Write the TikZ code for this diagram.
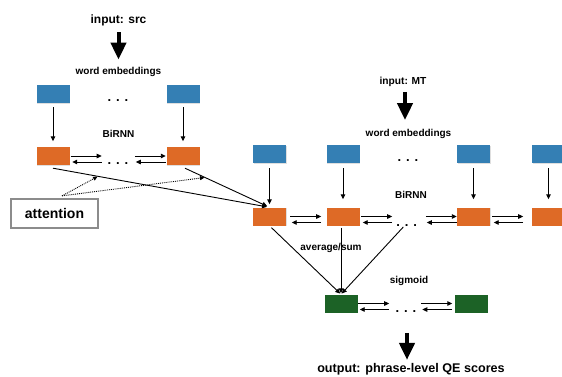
\documentclass[tikz,border=0pt]{standalone}
\usepackage{fontspec}
\setmainfont{Liberation Sans}
\usetikzlibrary{arrows.meta,shadows,calc}
\definecolor{eblue}{RGB}{52,127,180}
\definecolor{eorange}{RGB}{222,106,38}
\definecolor{egreen}{RGB}{28,98,38}
\tikzset{
  box/.style={minimum width=33pt, minimum height=18pt, inner sep=0pt, draw=none,
    drop shadow={shadow xshift=0.8pt, shadow yshift=-0.8pt, opacity=0.25}},
  emb/.style={box, fill=eblue},
  hid/.style={box, fill=eorange},
  outb/.style={box, fill=egreen},
  lbl/.style={font=\bfseries\fontsize{10}{12}\selectfont, inner sep=0pt},
  biglbl/.style={font=\bfseries\fontsize{12}{14}\selectfont, inner sep=0pt},
  dotsn/.style={font=\bfseries\fontsize{13}{13}\selectfont, inner sep=0pt, anchor=base},
  conn/.style={line width=0.9pt, -{Triangle[length=5pt,width=4.5pt]}},
  big/.style={line width=4pt, -{Triangle[length=17pt,width=15pt]}},
  attline/.style={line width=0.9pt, densely dotted, -{Triangle[length=4.5pt,width=4pt]}},
  attbox/.style={draw=black!45, line width=1.3pt, fill=white, minimum width=87pt,
    minimum height=29pt, inner sep=0pt, font=\bfseries\fontsize{14}{16}\selectfont}
}
\newcommand\pairE[2]{%
  \draw[conn] ([xshift=#2]#1.east) -- ++(31pt,0pt);
  \draw[conn] ([shift={(#2+31pt,-6pt)}]#1.east) -- ([shift={(#2+1.5pt,-6pt)}]#1.east);}
\newcommand\pairW[2]{%
  \draw[conn] ([xshift=-#2-31pt]#1.west) -- ([xshift=-#2]#1.west);
  \draw[conn] ([shift={(-#2,-6pt)}]#1.west) -- ([shift={(-#2-30pt,-6pt)}]#1.west);}
\newcommand\dotstext{.\hspace{4.9pt}.\hspace{4.9pt}.}
\begin{document}
\begin{tikzpicture}[x=1pt,y=-1pt]
\useasboundingbox (0,0) rectangle (562,376);

% ---------- source side ----------
\node[biglbl] (insrc) at (118.5,20) {input: src};
\node[lbl] (wesrc) at (118.5,72) {word embeddings};
\draw[big, shorten <=6.5pt, shorten >=7.5pt] (insrc.south) -- (wesrc.north);

\node[emb] (sb1) at (53,94) {};
\node[emb] (sb2) at (183,94) {};
\node[dotsn] (sdots1) at (118,101) {\dotstext};

\node[lbl] (birnnsrc) at (118.5,134) {BiRNN};

\node[hid] (so1) at (53,156) {};
\node[hid] (so2) at (183,156) {};
\node[dotsn] (sdots2) at (118,164) {\dotstext};

\draw[conn, shorten <=4pt, shorten >=5.5pt] (sb1.south) -- (so1.north);
\draw[conn, shorten <=4pt, shorten >=5.5pt] (sb2.south) -- (so2.north);

\pairE{so1}{1pt}
\pairW{so2}{0.5pt}

% ---------- MT side ----------
\node[lbl, font=\bfseries\fontsize{10.2}{12}\selectfont] (inmt) at (403,82) {input: MT};
\node[lbl] (wemt) at (408.5,134) {word embeddings};
\draw[big, shorten <=5pt, shorten >=9pt] (inmt.south -| 405,0) -- (wemt.north -| 405,0);

\node[emb] (mb1) at (269.5,154) {};
\node[emb] (mb2) at (343,154) {};
\node[emb] (mb3) at (473.5,154) {};
\node[emb] (mb4) at (548.5,154) {};
\node[dotsn] (mdots1) at (408,161) {\dotstext};

\node[lbl] (birnnmt) at (411,195) {BiRNN};

\node[hid] (mo1) at (269.5,216.5) {};
\node[hid] (mo2) at (343,216.5) {};
\node[hid] (mo3) at (473.5,216.5) {};
\node[hid] (mo4) at (548.5,216.5) {};
\node[dotsn] (mdots2) at (406.7,226) {\dotstext};

\draw[conn, shorten <=5pt, shorten >=3pt] (mb1.south) -- (mo1.north);
\draw[conn, shorten <=5pt, shorten >=8pt] (mb2.south) -- (mo2.north);
\draw[conn, shorten <=5pt, shorten >=8pt] (mb3.south) -- (mo3.north);
\draw[conn, shorten <=5pt, shorten >=8pt] (mb4.south) -- (mo4.north);

\pairE{mo1}{4pt}
\pairE{mo2}{1.5pt}
\pairW{mo3}{0pt}
\pairE{mo3}{2pt}

% ---------- attention ----------
\node[attbox] (attn) at (54.5,213.5) {attention};
\draw[line width=0.9pt, -{Triangle[length=5pt,width=4.5pt]}, shorten >=2.5pt]
  ([yshift=-3pt]so1.south) -- coordinate[pos=0.208] (p1) (mo1.north);
\draw[line width=0.9pt, -{Triangle[length=5pt,width=4.5pt]}, shorten >=2.5pt]
  ([shift={(2pt,-3pt)}]so2.south) -- coordinate[pos=0.237] (p2) (mo1.north);
\draw[attline, shorten >=0.5pt] ([shift={(7.5pt,2.5pt)}]attn.north) -- (p1);
\draw[attline, shorten >=0.5pt] ([shift={(7.5pt,2.5pt)}]attn.north) -- (p2);

% ---------- output layer ----------
\node[lbl] (avg) at (331,248) {average/sum};
\node[lbl] (sigm) at (409,281) {sigmoid};

\node[outb] (g1) at (341,303.5) {};
\node[outb] (g2) at (471,303.5) {};
\node[dotsn] (gdots) at (406,312.8) {\dotstext};

\draw[conn, shorten >=1pt] ([shift={(2pt,-2pt)}]mo1.south) -- (g1.north);
\draw[conn, shorten >=1pt] ($(mo2.south -| g1.north)+(0,2)$) -- (g1.north);
\draw[conn, shorten >=1pt] ([shift={(-3.4pt,-1pt)}]mdots2.base) -- (g1.north);

\pairE{g1}{0.5pt}
\pairW{g2}{2pt}

\node[biglbl, font=\bfseries\fontsize{12.6}{14}\selectfont] (outlbl) at (411,369) {output: phrase-level QE scores};
\draw[big, shorten <=20pt, shorten >=3pt] (gdots.base -| 407,0) -- (outlbl.north -| 407,0);
\end{tikzpicture}
\end{document}
